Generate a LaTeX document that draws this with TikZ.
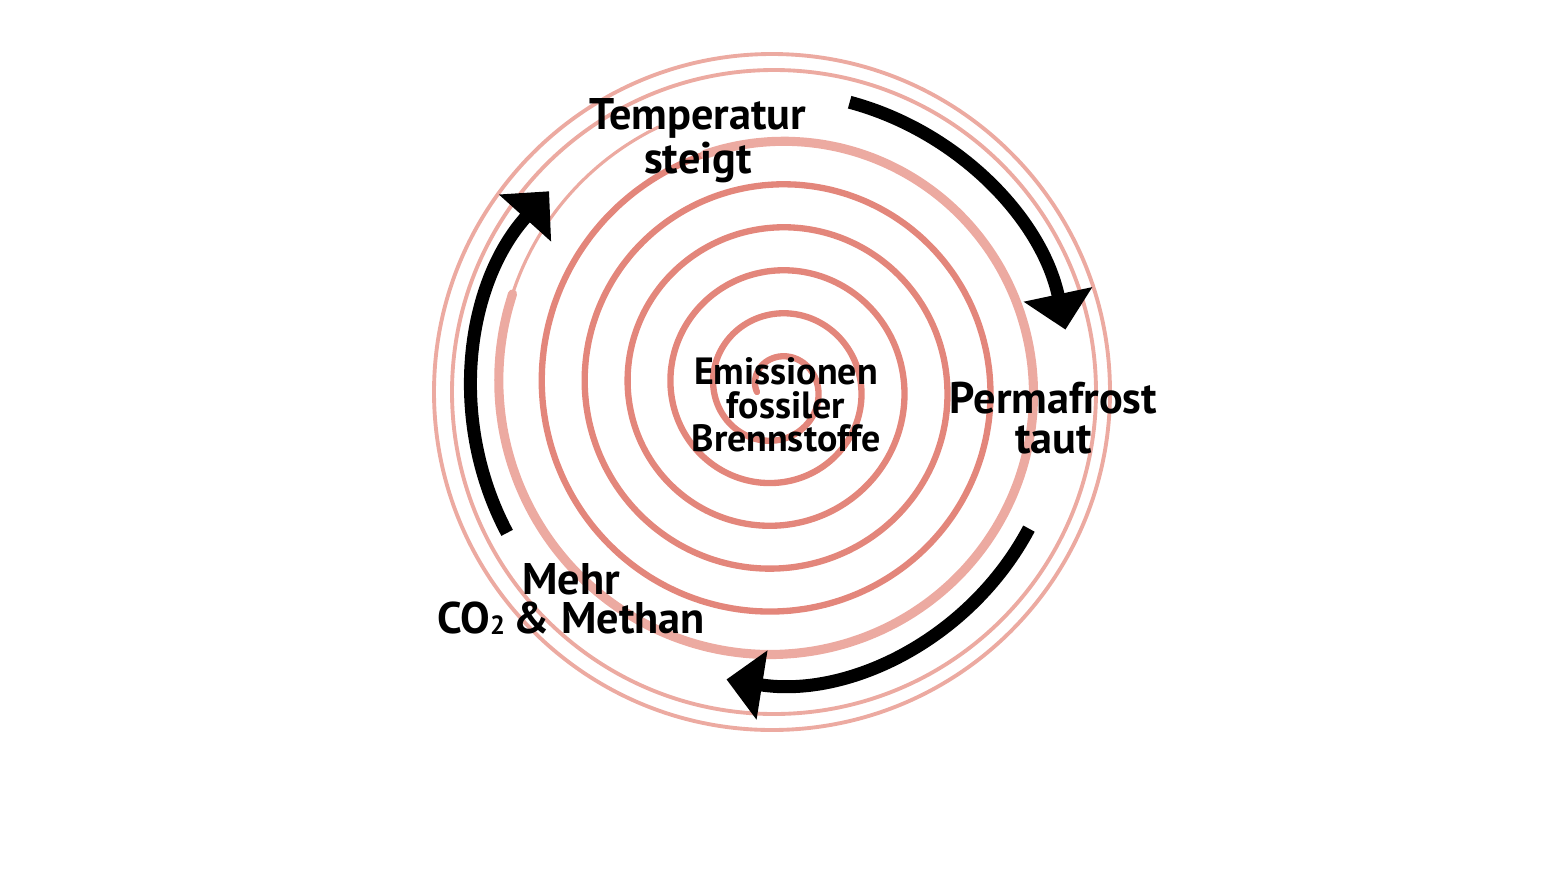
\documentclass[tikz,border=0pt]{standalone}
\usepackage{fontspec}
\setmainfont{PT Sans}
\usetikzlibrary{arrows.meta}
\usetikzlibrary{positioning}
\definecolor{spiralred}{HTML}{E3867B}
\definecolor{spiralpink}{HTML}{ECAAA1}
\newcommand{\subtwo}{{\fontsize{7.5}{7.5}\selectfont\raisebox{-0.4pt}{2}}}
\newcommand{\spr}[1]{(0.2+0.43*#1/360+0.05*sin(#1)+0.05*cos(#1))}

\begin{document}
\begin{tikzpicture}[
    thick,
    font=\bfseries
]
\tikzset{
    biglabel/.style = {align=center, inner sep=0pt, font=\fontsize{12.6}{11.2}\selectfont\bfseries},
    smalllabel/.style = {align=center, inner sep=0pt, font=\fontsize{10.8}{9.6}\selectfont\bfseries},
    spiraldark/.style = {draw=spiralred, line width=1.8pt, line cap=round},
    spiralpale/.style = {draw=spiralpink, line width=2.6pt, line cap=round},
    spiralthin/.style = {draw=spiralpink, line width=0.9pt, line cap=round},
    ringpale/.style = {draw=spiralpink, line width=1.1pt},
    cyclearrow/.style = {line width=0.13cm, -{Triangle[width=0.68cm, length=0.36cm]}}
}
\useasboundingbox (0,0) rectangle (15.41,8.79);
\coordinate (o) at (7.72,4.87);

\draw[spiraldark] plot[domain=0:1872, samples=400, smooth]
    ({7.82-\spr{\x}*cos(\x)}, {4.87+\spr{\x}*sin(\x)});
\draw[spiralpale] plot[domain=1872:2180, samples=80, smooth]
    ({7.82-\spr{\x}*cos(\x)}, {4.87+\spr{\x}*sin(\x)});
\draw[spiralthin] plot[domain=2180:2225, samples=20, smooth]
    ({7.82-\spr{\x}*cos(\x)}, {4.87+\spr{\x}*sin(\x)});
\draw[ringpale] ([shift={(0.02,0)}]o) circle[radius=3.22];
\draw[ringpale] (o) circle[radius=3.38];

\node[biglabel] (temp) at (6.98,7.38) {Temperatur\\steigt};
\node[biglabel] (perma) at (10.535,4.61) {Permafrost\\taut};
\node[biglabel] (gas) at (5.71,2.80) {Mehr\\CO\subtwo\hspace{0.2em}\& Methan};
\node[smalllabel] (emis) at (7.86,4.74) {Emissionen\\fossiler\\Brennstoffe};

\coordinate (a1) at ([shift={(75:3.0)}]o);
\coordinate (a2) at ([shift={(-28:2.91)}]o);
\coordinate (a3) at ([shift={(208:3.0)}]o);
\draw[cyclearrow] (a1) arc[start angle=75, end angle=12, radius=3.0];
\draw[cyclearrow] (a2) arc[start angle=-28, end angle=-99, radius=2.91];
\draw[cyclearrow] (a3) arc[start angle=208, end angle=138, radius=3.0];
\end{tikzpicture}
\end{document}
